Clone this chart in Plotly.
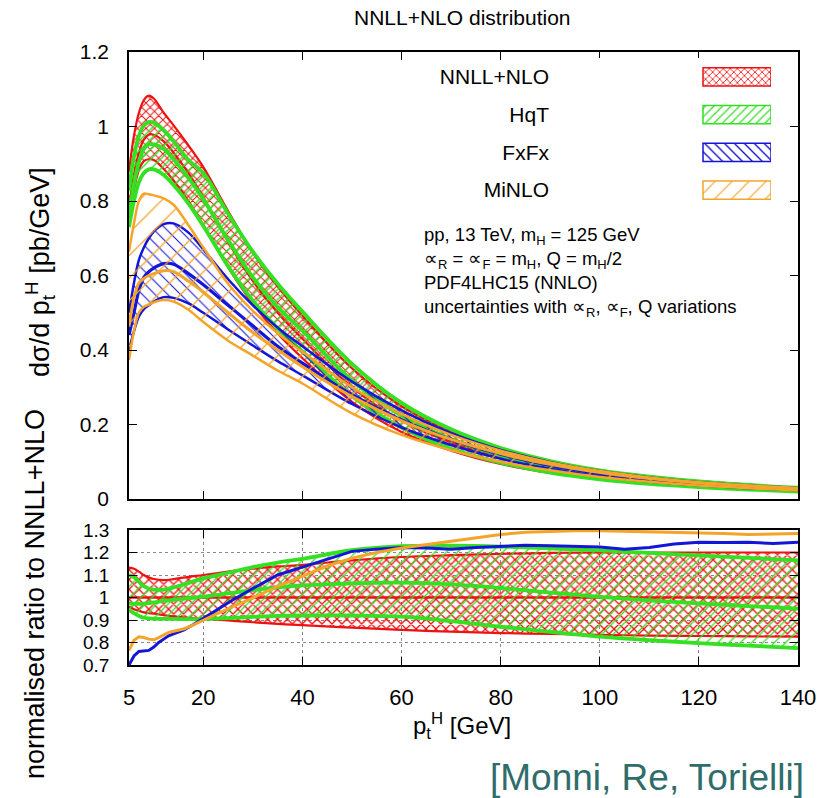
import plotly.graph_objects as go

# ---------------- data ----------------
pt = [5, 6, 7, 8, 9, 10, 12, 14, 17, 20, 25, 30, 35, 40, 50, 60, 70, 80, 90, 100, 110, 120, 130, 140]

nnll_c = [0.78, 0.87, 0.93, 0.965, 0.978, 0.978, 0.96, 0.93, 0.875, 0.81, 0.69, 0.585, 0.50, 0.43, 0.30, 0.21, 0.152, 0.112, 0.084, 0.064, 0.050, 0.040, 0.032, 0.026]
nnll_hi = [0.88, 0.975, 1.037, 1.071, 1.083, 1.075, 1.037, 1.003, 0.949, 0.891, 0.773, 0.661, 0.57, 0.492, 0.351, 0.249, 0.181, 0.134, 0.101, 0.077, 0.060, 0.048, 0.0385, 0.031]
nnll_lo = [0.749, 0.83, 0.883, 0.907, 0.912, 0.91, 0.886, 0.855, 0.80, 0.735, 0.622, 0.524, 0.444, 0.378, 0.261, 0.18, 0.13, 0.094, 0.070, 0.053, 0.042, 0.033, 0.0265, 0.0215]

hqt_hi = [0.83, 0.92, 0.975, 1.003, 1.012, 1.01, 0.99, 0.96, 0.91, 0.875, 0.766, 0.664, 0.578, 0.503, 0.363, 0.258, 0.187, 0.137, 0.102, 0.077, 0.060, 0.0475, 0.0376, 0.0303]
hqt_c = [0.76, 0.845, 0.905, 0.94, 0.952, 0.952, 0.94, 0.912, 0.862, 0.805, 0.695, 0.595, 0.515, 0.452, 0.318, 0.224, 0.161, 0.117, 0.086, 0.064, 0.049, 0.039, 0.031, 0.0247]
hqt_lo = [0.73, 0.80, 0.85, 0.875, 0.885, 0.885, 0.87, 0.843, 0.793, 0.733, 0.625, 0.532, 0.458, 0.396, 0.276, 0.192, 0.135, 0.0975, 0.071, 0.053, 0.0405, 0.032, 0.0252, 0.0202]

fxfx_hi = [0.50, 0.58, 0.642, 0.675, 0.70, 0.718, 0.738, 0.74, 0.715, 0.67, 0.59, 0.52, 0.46, 0.41, 0.315, 0.238, 0.177, 0.132, 0.099, 0.075, 0.058, 0.045, 0.036, 0.029]
fxfx_c = [0.44, 0.50, 0.56, 0.595, 0.61, 0.62, 0.632, 0.63, 0.605, 0.575, 0.52, 0.465, 0.41, 0.365, 0.28, 0.212, 0.16, 0.12, 0.09, 0.068, 0.052, 0.041, 0.033, 0.027]
fxfx_lo = [0.40, 0.45, 0.49, 0.51, 0.52, 0.53, 0.542, 0.54, 0.525, 0.50, 0.455, 0.412, 0.37, 0.332, 0.255, 0.192, 0.145, 0.108, 0.081, 0.061, 0.047, 0.037, 0.029, 0.0235]

minlo_hi = [0.664, 0.74, 0.80, 0.82, 0.818, 0.815, 0.807, 0.79, 0.735, 0.675, 0.578, 0.505, 0.445, 0.395, 0.30, 0.228, 0.172, 0.130, 0.098, 0.075, 0.058, 0.045, 0.036, 0.029]
minlo_c = [0.463, 0.54, 0.58, 0.592, 0.60, 0.605, 0.613, 0.61, 0.585, 0.555, 0.50, 0.447, 0.40, 0.355, 0.275, 0.21, 0.16, 0.122, 0.093, 0.071, 0.055, 0.043, 0.035, 0.028]
minlo_lo = [0.373, 0.45, 0.50, 0.516, 0.522, 0.528, 0.534, 0.53, 0.508, 0.475, 0.425, 0.385, 0.345, 0.31, 0.23, 0.172, 0.131, 0.10, 0.077, 0.059, 0.046, 0.036, 0.029, 0.023]

# ratio panel
r_nnll_hi = [1.133, 1.128, 1.115, 1.10, 1.09, 1.082, 1.077, 1.082, 1.092, 1.10, 1.115, 1.128, 1.138, 1.145, 1.165, 1.18, 1.188, 1.194, 1.198, 1.2, 1.2, 1.2, 1.2, 1.2]
r_nnll_lo = [0.96, 0.948, 0.94, 0.934, 0.93, 0.928, 0.922, 0.916, 0.91, 0.906, 0.898, 0.89, 0.883, 0.877, 0.866, 0.856, 0.848, 0.842, 0.838, 0.834, 0.831, 0.829, 0.827, 0.826]
r_nnll_x = [5, 140]
r_nnll_c = [1.0, 1.0]
r_hqt_hi = [1.10, 1.09, 1.07, 1.05, 1.04, 1.035, 1.035, 1.045, 1.065, 1.085, 1.11, 1.135, 1.155, 1.172, 1.21, 1.228, 1.23, 1.226, 1.218, 1.209, 1.198, 1.187, 1.176, 1.165]
r_hqt_c = [0.975, 0.972, 0.972, 0.973, 0.975, 0.978, 0.985, 0.99, 0.997, 1.004, 1.018, 1.033, 1.045, 1.054, 1.063, 1.066, 1.058, 1.042, 1.022, 1.003, 0.987, 0.974, 0.962, 0.951]
r_hqt_lo = [0.944, 0.93, 0.918, 0.91, 0.907, 0.906, 0.905, 0.905, 0.904, 0.904, 0.908, 0.914, 0.918, 0.92, 0.92, 0.915, 0.895, 0.87, 0.847, 0.826, 0.81, 0.797, 0.786, 0.775]

pt_fine = [5, 6, 7, 8, 9, 10, 11, 12, 13, 14, 16, 18, 20, 23, 26, 30, 35, 40, 45, 50, 55, 60, 65, 70, 75, 80, 85, 90, 95, 100, 105, 110, 115, 120, 125, 130, 135, 140]
r_fxfx = [0.70, 0.74, 0.76, 0.762, 0.765, 0.78, 0.80, 0.815, 0.83, 0.838, 0.855, 0.88, 0.907, 0.95, 0.99, 1.04, 1.10, 1.135, 1.17, 1.205, 1.215, 1.222, 1.22, 1.215, 1.222, 1.228, 1.232, 1.23, 1.228, 1.224, 1.215, 1.222, 1.238, 1.246, 1.245, 1.246, 1.24, 1.246]
r_minlo = [0.765, 0.81, 0.825, 0.822, 0.815, 0.812, 0.822, 0.835, 0.845, 0.85, 0.86, 0.878, 0.90, 0.93, 0.96, 0.998, 1.05, 1.095, 1.14, 1.175, 1.20, 1.22, 1.235, 1.25, 1.265, 1.28, 1.29, 1.295, 1.297, 1.297, 1.295, 1.293, 1.29, 1.29, 1.285, 1.28, 1.283, 1.285]

legend_labels = ["NNLL+NLO", "HqT", "FxFx", "MiNLO"]
x_ticks = [5, 20, 40, 60, 80, 100, 120, 140]
top_ticks = [0, 0.2, 0.4, 0.6, 0.8, 1, 1.2]
top_tick_text = ["0", "0.2", "0.4", "0.6", "0.8", "1", "1.2"]
bot_ticks = [0.7, 0.8, 0.9, 1, 1.1, 1.2, 1.3]
bot_tick_text = ["0.7", "0.8", "0.9", "1", "1.1", "1.2", "1.3"]

# ---------------- style ----------------
RED, GREEN, BLUE, ORANGE = "#ee1111", "#33e022", "#1515d8", "#f5a42a"
FONT = "Liberation Sans"
W, H = 825, 798


def fx(p):
    return p / W


def fy(p):
    return 1 - p / H


fig = go.Figure()


def band(x, lo, hi, col, shape, size, sol, lw, xa, ya):
    fig.add_trace(go.Scatter(x=x, y=lo, mode="lines", line=dict(color=col, width=lw, shape="spline"),
                             xaxis=xa, yaxis=ya, showlegend=False, hoverinfo="skip"))
    fig.add_trace(go.Scatter(x=x, y=hi, mode="lines", line=dict(color=col, width=lw, shape="spline"),
                             fill="tonexty", fillcolor="rgba(0,0,0,0)",
                             fillpattern=dict(shape=shape, fgcolor=col, bgcolor="rgba(0,0,0,0)",
                                              size=size, solidity=sol),
                             xaxis=xa, yaxis=ya, showlegend=False, hoverinfo="skip"))


def line(x, y, col, lw, xa, ya, shape="spline"):
    fig.add_trace(go.Scatter(x=x, y=y, mode="lines", line=dict(color=col, width=lw, shape=shape),
                             xaxis=xa, yaxis=ya, showlegend=False, hoverinfo="skip"))


# top panel
band(pt, nnll_lo, nnll_hi, RED, "x", 6, 0.3, 2.2, "x", "y")
line(pt, nnll_c, RED, 2.2, "x", "y")
band(pt, hqt_lo, hqt_hi, GREEN, "/", 7, 0.2, 3.8, "x", "y")
line(pt, hqt_c, GREEN, 3.8, "x", "y")
band(pt, fxfx_lo, fxfx_hi, BLUE, "\\", 9, 0.12, 2.5, "x", "y")
line(pt, fxfx_c, BLUE, 3.2, "x", "y")
band(pt, minlo_lo, minlo_hi, ORANGE, "/", 16, 0.08, 2.5, "x", "y")
line(pt, minlo_c, ORANGE, 3, "x", "y")

# ratio panel
band(pt, r_nnll_lo, r_nnll_hi, RED, "x", 7, 0.35, 2.2, "x2", "y2")
line(r_nnll_x, r_nnll_c, RED, 2.5, "x2", "y2", "linear")
band(pt, r_hqt_lo, r_hqt_hi, GREEN, "/", 8, 0.15, 3.8, "x2", "y2")
line(pt, r_hqt_c, GREEN, 3.8, "x2", "y2")
line(pt_fine, r_fxfx, BLUE, 3, "x2", "y2", "linear")
line(pt_fine, r_minlo, ORANGE, 3, "x2", "y2", "linear")

# legend swatches drawn as bars on a helper axis
fig.add_trace(go.Bar(x=[1, 1, 1, 1], y=legend_labels, orientation="h", width=0.48,
                     marker=dict(color="white",
                                 pattern=dict(shape=["x", "/", "\\", "/"],
                                              fgcolor=[RED, GREEN, BLUE, ORANGE],
                                              bgcolor="white", size=[5, 6, 7, 12],
                                              solidity=[0.3, 0.2, 0.2, 0.1]),
                                 line=dict(color=[RED, GREEN, BLUE, ORANGE], width=1.5)),
                     xaxis="x3", yaxis="y3", showlegend=False, hoverinfo="skip"))

XDOM = [fx(129), fx(798)]
base = dict(showline=True, linecolor="black", linewidth=1.5, mirror="ticks", ticks="inside",
            ticklen=8, tickcolor="black", zeroline=False, automargin=False)

fig.update_layout(
    template="none",
    width=W, height=H, autosize=False, margin=dict(l=0, r=0, t=0, b=0, pad=0),
    paper_bgcolor="white", plot_bgcolor="white", bargap=0.5,
    font=dict(family=FONT, color="black"),
    xaxis=dict(domain=XDOM, range=[5, 140], tickvals=x_ticks, showticklabels=False,
               anchor="y", showgrid=False, **base),
    yaxis=dict(domain=[fy(499), fy(52)], range=[0, 1.2], tickvals=top_ticks,
               ticktext=top_tick_text, anchor="x", showgrid=False, ticklabelstandoff=14,
               tickfont=dict(family=FONT, size=21, color="black"), **base),
    xaxis2=dict(domain=XDOM, range=[5, 140], tickvals=x_ticks, anchor="y2", showgrid=True,
                gridcolor="#888888", griddash="dot", gridwidth=1, ticklabelstandoff=12,
                tickfont=dict(family=FONT, size=22, color="black"), **base),
    yaxis2=dict(domain=[fy(665), fy(530)], range=[0.7, 1.3], tickvals=bot_ticks,
                ticktext=bot_tick_text, anchor="x2",
                showgrid=True, gridcolor="#888888", griddash="dot", gridwidth=1,
                ticklabelstandoff=14, tickfont=dict(family=FONT, size=19, color="black"), **base),
    xaxis3=dict(domain=[fx(550), fx(771)], range=[-2.25, 1], visible=False, anchor="y3",
                fixedrange=True, automargin=False),
    yaxis3=dict(domain=[fy(209), fy(58)], anchor="x3", type="category", autorange="reversed",
                showline=False, showgrid=False, zeroline=False, ticks="", automargin=False,
                tickfont=dict(family=FONT, size=21, color="black"), fixedrange=True),
)


def note(text, x, y, size, color="black", angle=0, xanchor="center", yanchor="middle", align="center"):
    return dict(text=text, x=fx(x), y=fy(y), xref="paper", yref="paper", showarrow=False,
                xanchor=xanchor, yanchor=yanchor, align=align, textangle=angle,
                font=dict(family=FONT, size=size, color=color))


info = ("pp, 13 TeV, m<sub>H</sub> = 125 GeV<br>"
        "∝<sub>R</sub> = ∝<sub>F</sub> = m<sub>H</sub>, Q = m<sub>H</sub>/2<br>"
        "PDF4LHC15 (NNLO)<br>"
        "uncertainties with ∝<sub>R</sub>, ∝<sub>F</sub>, Q variations")
ann = [
    note("NNLL+NLO distribution", 463, 18, 21),
    note(info, 422, 222, 18.5, xanchor="left", yanchor="top", align="left"),
    note("dσ/d p<sub>t</sub><sup>H</sup> [pb/GeV]", 40, 272, 27, angle=-90),
    note("normalised ratio to NNLL+NLO", 35, 594, 27, angle=-90),
    note("p<sub>t</sub><sup>H</sup> [GeV]", 462, 726, 24),
    note("[Monni, Re, Torielli]", 806, 777, 37, color="#2f6d6b", xanchor="right"),
]
fig.update_layout(annotations=ann)

fig.write_html("out.html")
